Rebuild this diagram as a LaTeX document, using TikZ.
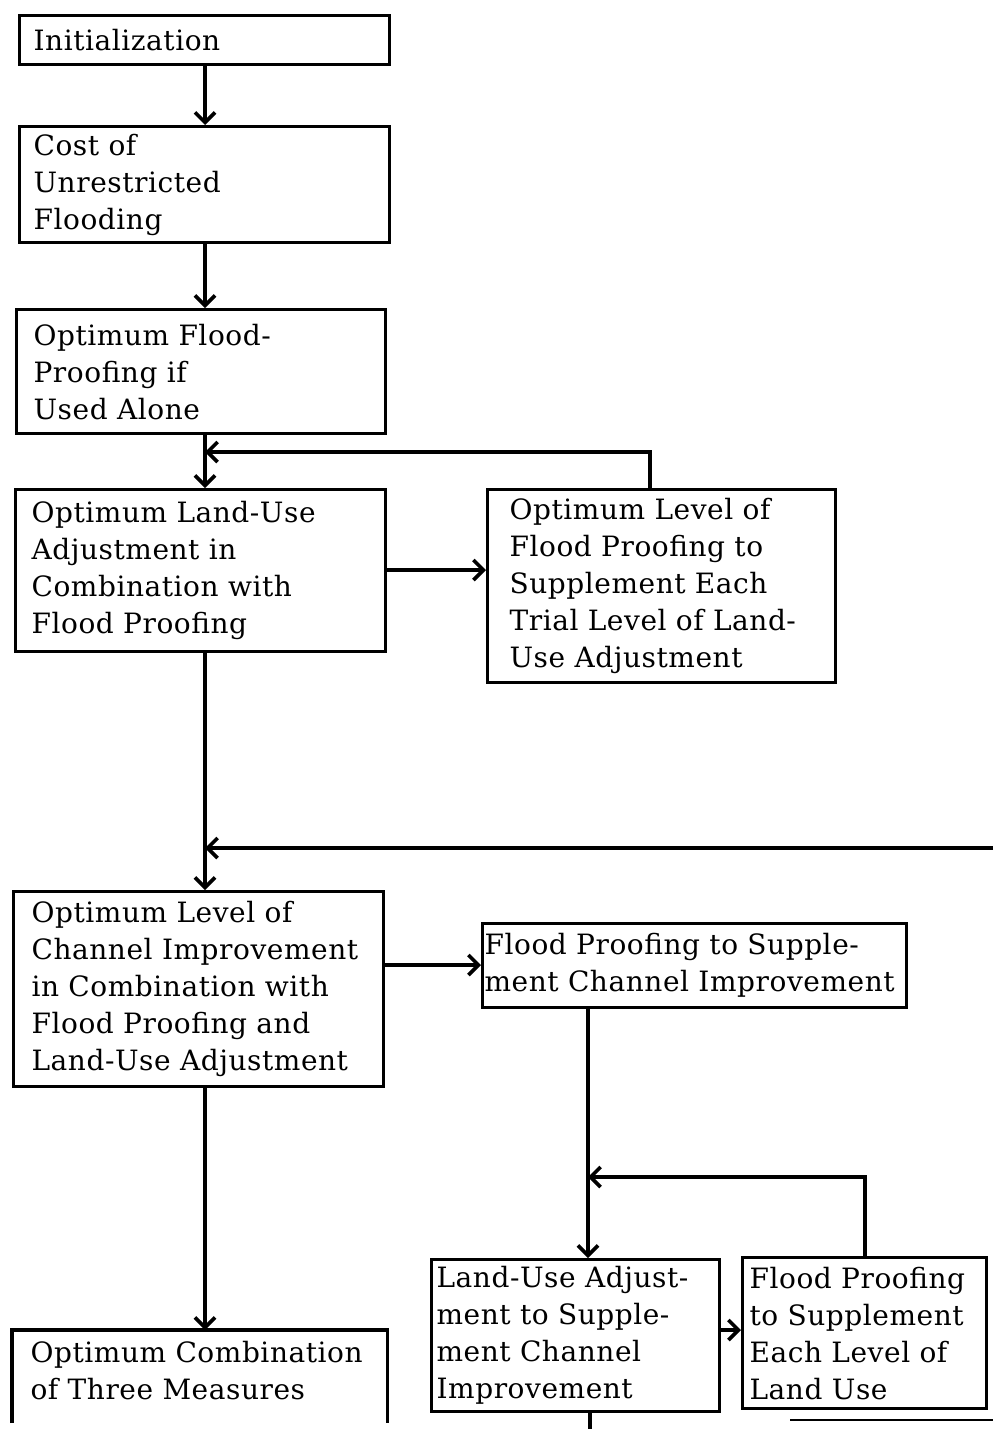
\documentclass[tikz,border=0pt]{standalone}
\usepackage{fontspec}
\setmainfont[LetterSpace=2]{DejaVu Serif}
\usetikzlibrary{arrows.meta}
\begin{document}
\begin{tikzpicture}[x=1pt,y=-1pt,
  box/.style={draw, line width=3.2pt, align=left, anchor=north west, inner ysep=0pt,
    font=\fontsize{28}{37}\selectfont},
  conn/.style={line width=3.6pt},
  arr/.style={conn, -{Straight Barb[length=10pt,width=20pt,line width=3.6pt]}}]
\useasboundingbox (0,0) rectangle (993,1429);
% nodes
\node[box, minimum width=370pt, minimum height=49pt, inner xsep=14pt, text width=342pt] (init) at (18,14) {Initialization};
\node[box, minimum width=370pt, minimum height=116pt, inner xsep=14pt, text width=342pt] (cost) at (18,125) {Cost of\\Unrestricted\\Flooding};
\node[box, minimum width=369pt, minimum height=124pt, inner xsep=17pt, text width=335pt] (fpa) at (15,308) {Optimum Flood-\\Proofing if\\Used Alone};
\node[box, minimum width=370pt, minimum height=162pt, inner xsep=16pt, text width=338pt] (lu) at (14,488) {Optimum Land-Use\\Adjustment in\\Combination with\\Flood Proofing};
\node[box, minimum width=348pt, minimum height=193pt, inner xsep=22pt, text width=304pt] (olev) at (486,488) {Optimum Level of\\Flood Proofing to\\Supplement Each\\Trial Level of Land-\\Use Adjustment};
\node[box, minimum width=370pt, minimum height=195pt, inner xsep=18pt, text width=334pt] (chan) at (12,890) {Optimum Level of\\Channel Improvement\\in Combination with\\Flood Proofing and\\Land-Use Adjustment};
\node[box, minimum width=424pt, minimum height=84pt, inner xsep=2pt, text width=420pt] (fpc) at (481,922) {Flood Proofing to Supple-\\ment Channel Improvement};
\node[box, minimum width=288pt, minimum height=152pt, inner xsep=5pt, text width=278pt] (lua) at (430,1258) {Land-Use Adjust-\\ment to Supple-\\ment Channel\\Improvement};
\node[box, minimum width=244pt, minimum height=151pt, inner xsep=7pt, text width=230pt] (fpe) at (741,1256) {Flood Proofing\\to Supplement\\Each Level of\\Land Use};
\node[box, draw=none, minimum width=372pt, minimum height=78pt, inner xsep=17pt, text width=338pt] (comb) at (12,1330) {Optimum Combination\\of Three Measures};
\draw[line width=3.2pt] ([yshift=-12pt]comb.south west) -- (comb.north west) -- (comb.north east) -- ([yshift=-12pt]comb.south east);
% coordinates
\coordinate (cx) at (205,0);
\coordinate (m1) at (205,452);
\coordinate (f1) at (650,0);
\coordinate (r2) at (993,848);
\coordinate (m2) at (205,848);
\coordinate (y1) at (0,570);
\coordinate (y2) at (0,965);
\coordinate (cx2) at (588,0);
\coordinate (m3) at (588,1177);
\coordinate (f3) at (865,0);
\coordinate (y3) at (0,1330);
\coordinate (bot) at (590,1429);
\coordinate (cx3) at (590,0);
\coordinate (br1) at (790,1420);
\coordinate (br2) at (993,1420);
% connectors
\draw[arr] (init.south -| cx) -- (cost.north -| cx);
\draw[arr] (cost.south -| cx) -- (fpa.north -| cx);
\draw[arr] (fpa.south -| cx) -- (lu.north -| cx);
\draw[arr] (olev.north -| f1) |- (m1);
\draw[arr] (lu.east |- y1) -- (olev.west |- y1);
\draw[arr] (lu.south -| cx) -- (chan.north -| cx);
\draw[arr] (r2) -- (m2);
\draw[arr] (chan.east |- y2) -- (fpc.west |- y2);
\draw[arr] (fpc.south -| cx2) -- (lua.north -| cx2);
\draw[arr] (fpe.north -| f3) |- (m3);
\draw[arr] (lua.east |- y3) -- (fpe.west |- y3);
\draw[arr] (chan.south -| cx) -- (comb.north -| cx);
\draw[conn] (lua.south -| cx3) -- (bot);
\draw[line width=2.6pt] (br1) -- (br2);
\end{tikzpicture}
\end{document}
